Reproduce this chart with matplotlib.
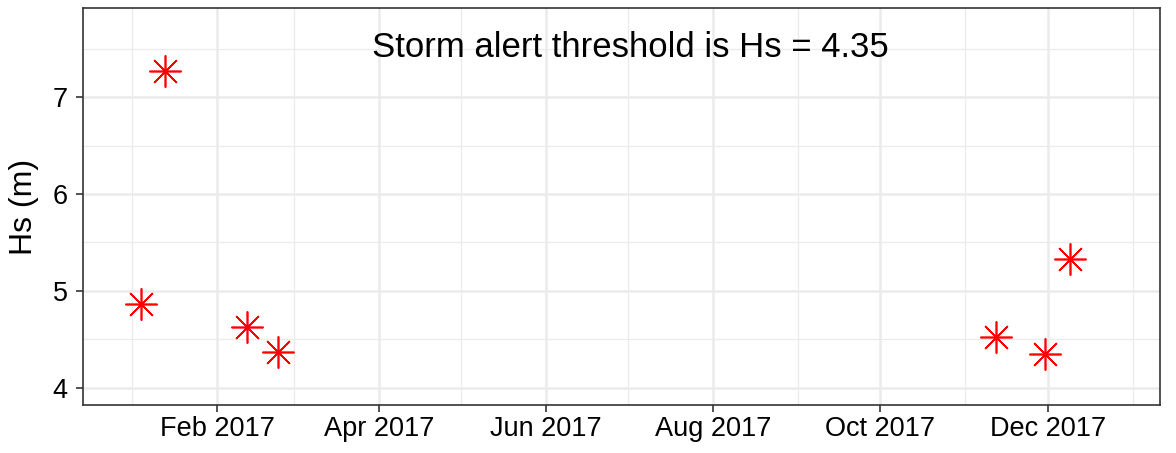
import matplotlib
matplotlib.use('Agg')
import matplotlib.pyplot as plt
import matplotlib.dates as mdates
import numpy as np
import pandas as pd

# storm events above the alert threshold
dates = ['2017-01-04', '2017-01-13', '2017-02-12', '2017-02-23',
         '2017-11-12', '2017-11-30', '2017-12-09']
hs = [4.86, 7.27, 4.63, 4.37, 4.52, 4.35, 5.33]
threshold = 4.35

plt.rcParams['font.family'] = ['Liberation Sans', 'DejaVu Sans']

fig = plt.figure(figsize=(11.76, 4.53), dpi=100)
ax = fig.add_axes([0.0706, 0.106, 0.9158, 0.8763])

x = pd.to_datetime(dates)
ax.plot(x, hs, linestyle='none', marker=(8, 2, 0), markersize=23,
        markeredgewidth=1.2, color='#FF0000')

ax.set_xlim(pd.Timestamp('2016-12-14'), pd.Timestamp('2018-01-11'))
ax.set_ylim(3.82, 7.92)

ax.xaxis.set_major_locator(mdates.MonthLocator(bymonth=[2, 4, 6, 8, 10, 12]))
ax.xaxis.set_minor_locator(mdates.MonthLocator(bymonth=[1, 3, 5, 7, 9, 11]))
ax.xaxis.set_major_formatter(mdates.DateFormatter('%b %Y'))
ax.set_yticks([4, 5, 6, 7])
ax.set_yticks([4.5, 5.5, 6.5, 7.5], minor=True)

ax.grid(which='major', color='#EBEBEB', linewidth=1.8)
ax.grid(which='minor', color='#EBEBEB', linewidth=0.9)
ax.set_axisbelow(True)
for s in ax.spines.values():
    s.set_color('#333333')
    s.set_linewidth(1.2)
ax.tick_params(which='major', length=5, width=1.2, color='#333333',
               labelsize=19.5, labelcolor='black', pad=3)
ax.tick_params(axis='y', pad=6)
ax.tick_params(which='minor', length=0)

ax.set_ylabel('Hs (m)', fontsize=23, labelpad=10)
ax.text(0.508, 0.9, 'Storm alert threshold is Hs = %.2f' % threshold,
        transform=ax.transAxes, ha='center', va='center', fontsize=25)

fig.savefig('out.png', dpi=100)
